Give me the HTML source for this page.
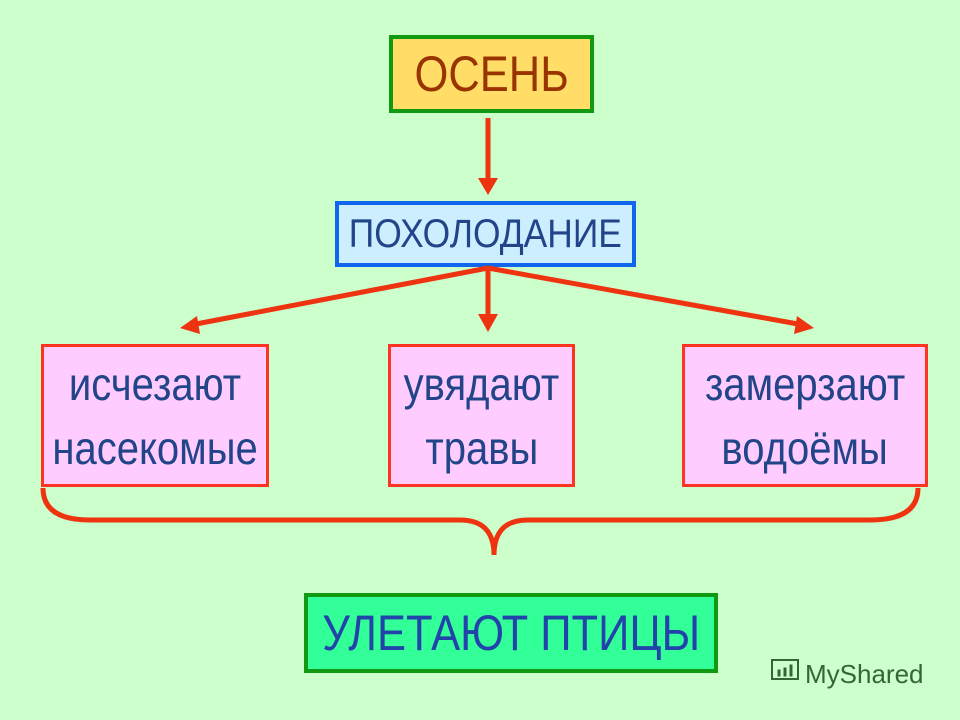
<!DOCTYPE html>
<html><head><meta charset="utf-8"><style>
body{margin:0;width:960px;height:720px;background:#ccffcc;position:relative;overflow:hidden;font-family:"Liberation Sans",sans-serif}
.b{position:absolute;box-sizing:border-box;display:flex;flex-direction:column;align-items:center;justify-content:center}
.t{display:inline-block;white-space:nowrap}
</style></head><body>
<div class="b" style="left:389px;top:35px;width:205px;height:78px;background:#ffdd66;border:4px solid #119911;color:#993300;font-size:50px"><span class="t" style="transform:scaleX(0.87)">ОСЕНЬ</span></div>
<div class="b" style="left:335px;top:201px;width:301px;height:66px;background:#cceeff;border:4px solid #1166ee;color:#224488;font-size:40px"><span class="t" style="transform:scaleX(0.885)">ПОХОЛОДАНИЕ</span></div>
<div class="b" style="left:41px;top:344px;width:228px;height:143px;background:#ffccff;border:3px solid #ff3322;color:#224488;font-size:46px;line-height:64px"><span class="t" style="transform:scaleX(0.87)">исчезают</span><span class="t" style="transform:scaleX(0.87)">насекомые</span></div>
<div class="b" style="left:388px;top:344px;width:187px;height:143px;background:#ffccff;border:3px solid #ff3322;color:#224488;font-size:46px;line-height:64px"><span class="t" style="transform:scaleX(0.87)">увядают</span><span class="t" style="transform:scaleX(0.87)">травы</span></div>
<div class="b" style="left:682px;top:344px;width:246px;height:143px;background:#ffccff;border:3px solid #ff3322;color:#224488;font-size:46px;line-height:64px"><span class="t" style="transform:scaleX(0.87)">замерзают</span><span class="t" style="transform:scaleX(0.87)">водоёмы</span></div>
<div class="b" style="left:304px;top:593px;width:414px;height:80px;background:#33ff99;border:4px solid #119911;color:#2244aa;font-size:50px"><span class="t" style="transform:scaleX(0.87)">УЛЕТАЮТ ПТИЦЫ</span></div>
<svg width="960" height="720" style="position:absolute;left:0;top:0">
<g stroke="#ee3311" stroke-width="5" fill="none">
<line x1="488" y1="118" x2="488" y2="180"/>
<line x1="488" y1="268" x2="488" y2="316"/>
<line x1="488" y1="268" x2="196" y2="324"/>
<line x1="488" y1="268" x2="798" y2="324"/>
<path d="M43 488 Q43 520 90 520 L460 520 Q494 520 494 555 Q494 520 528 520 L870 520 Q918 520 918 488"/>
</g>
<g fill="#ee3311">
<polygon points="478,178 498,178 488,195"/>
<polygon points="478,314 498,314 488,332"/>
<polygon points="197,316 200,334 180,328"/>
<polygon points="797,316 794,334 814,328"/>
</g>
<g fill="#336633" stroke="#336633">
<rect x="772" y="660" width="26" height="19" fill="none" stroke-width="2"/>
<rect x="778" y="670" width="2" height="6"/><rect x="784" y="668" width="2" height="8"/><rect x="790" y="665" width="2" height="11"/>
</g>
<text x="805" y="683" font-family="Liberation Sans,sans-serif" font-size="26" fill="#336633">MyShared</text>
</svg>
</body></html>
